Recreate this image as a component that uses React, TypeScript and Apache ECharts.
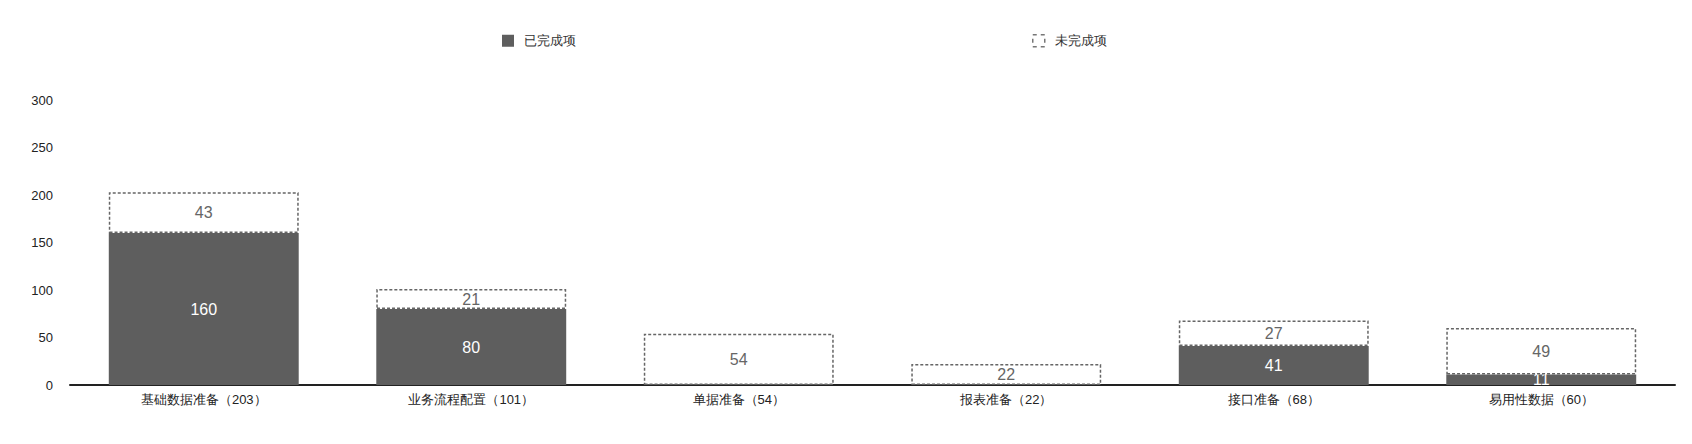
import React, { useEffect, useRef } from "react";
import * as echarts from "echarts";

const categories = ["基础数据准备（203）", "业务流程配置（101）", "单据准备（54）", "报表准备（22）", "接口准备（68）", "易用性数据（60）"];
const doneValues = [160, 80, 0, 0, 41, 11];
const todoValues = [43, 21, 54, 22, 27, 49];
const seriesNames = ["已完成项", "未完成项"];
const yMax = 300;
const yInterval = 50;

export default function App() {
  const ref = useRef<HTMLDivElement>(null);
  useEffect(() => {
    document.body.style.margin = "0";
    const chart = echarts.init(ref.current!, null, { renderer: "svg" });
    const fontFamily = "'Liberation Sans', Arial, Helvetica, sans-serif";
    const dashedStyle = {
      color: "#fff",
      borderColor: "#666",
      borderWidth: 1.5,
      borderType: [3, 2],
    };
    chart.setOption({
      animation: false,
      textStyle: { fontFamily },
      legend: {
        data: [
          { name: seriesNames[0], itemStyle: { color: "#5e5e5e" } },
          { name: seriesNames[1], itemStyle: { color: "#fff", borderColor: "#777", borderWidth: 1.5, borderType: [4, 4] } },
        ],
        icon: "rect",
        left: 497,
        top: 29,
        itemWidth: 12,
        itemHeight: 12,
        itemGap: 456,
        textStyle: { fontSize: 13, color: "#333", fontFamily, padding: [0, 0, 0, 5] },
      },
      grid: { left: 70, right: 17, top: 100, bottom: 59, containLabel: false },
      xAxis: {
        type: "category",
        data: categories,
        axisLine: { show: true, lineStyle: { color: "#222", width: 2 } },
        axisTick: { show: false },
        axisLabel: { fontSize: 13, color: "#222", margin: 8, interval: 0, fontFamily },
      },
      yAxis: {
        type: "value",
        min: 0,
        max: yMax,
        interval: yInterval,
        axisLine: { show: false },
        axisTick: { show: false },
        splitLine: { show: false },
        axisLabel: { fontSize: 13, color: "#222", margin: 17, fontFamily },
      },
      series: [
        {
          name: seriesNames[0],
          type: "bar",
          stack: "total",
          barWidth: "71%",
          data: doneValues,
          z: 2,
          itemStyle: { color: "#5e5e5e" },
          label: {
            show: true,
            position: "inside",
            color: "#fff",
            fontSize: 16,
            fontFamily,
            formatter: (p: any) => (p.value ? String(p.value) : ""),
          },
        },
        {
          name: seriesNames[1],
          type: "bar",
          stack: "total",
          barWidth: "71%",
          data: todoValues,
          z: 3,
          itemStyle: dashedStyle,
          label: {
            show: true,
            position: "inside",
            color: "#666",
            fontSize: 16,
            fontFamily,
            formatter: (p: any) => (p.value ? String(p.value) : ""),
          },
        },
      ],
    });
    return () => chart.dispose();
  }, []);
  return <div ref={ref} style={{ width: 1692, height: 444 }} />;
}
